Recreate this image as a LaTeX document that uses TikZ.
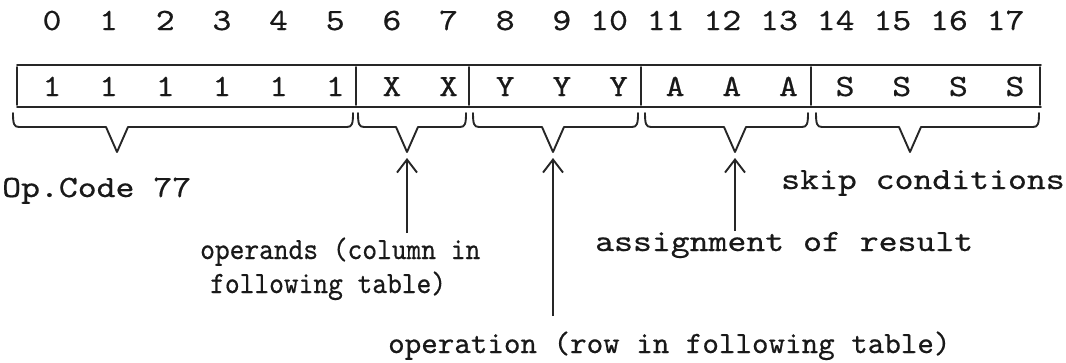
\documentclass[tikz,border=0pt]{standalone}
\usepackage{fontspec}
\newfontfamily\typew{lmmono10-regular}[Extension=.otf, FakeBold=0.5]
\usetikzlibrary{arrows.meta}
\newcommand\sq[2][1]{\scalebox{#1}[0.86]{#2}}
\newcommand\tbrace[4]{% x1, x2, tip x, name
  \draw[bracep] (#1,113) .. controls (#1,124) and (#1+1,127) .. (#1+6,127)
    -- (#3-11,127) -- (#3,152) coordinate (#4) -- (#3+11,127)
    -- (#2-6,127) .. controls (#2-1,127) and (#2,124) .. (#2,113);}
\begin{document}
\begin{tikzpicture}[x=1pt,y=-1pt,
  tt/.style={font=\typew\fontsize{36}{38}\selectfont, inner sep=0pt, text=black!90},
  boxline/.style={line width=1.9pt, black!85, line cap=round},
  bracep/.style={line width=1.9pt, black!85, line join=round, line cap=round},
  uparrow/.style={line width=1.9pt, black!85,
    -{Straight Barb[length=13pt,width=20pt,line width=1.9pt]}}]
\useasboundingbox (0,0) rectangle (1066,362);
% column positions
\pgfmathsetmacro{\pc}{56.65}
% top bit numbers
\foreach \i in {0,...,9}{
  \node[tt,anchor=base] (n\i) at ({52+\pc*\i},30) {\sq{\i}};}
\foreach \i in {10,...,17}{
  \node[tt,anchor=base] (n\i) at ({52+\pc*\i-9.4},30) {\sq{\i}};}
% the word box
\coordinate (bl) at (17,65);
\coordinate (br) at (1041,65);
\draw[boxline] (bl) -- (br);
\draw[boxline] (17,107) -- (1041,107);
\foreach \x/\n in {17/d0,356/d1,469/d2,641/d3,811/d4,1040/d5}{
  \coordinate (\n t) at (\x,67);
  \coordinate (\n b) at (\x,105);
  \draw[boxline] (\n t) -- (\n b);}
% contents
\foreach \i/\c in {0/1,1/1,2/1,3/1,4/1,5/1,6/X,7/X,8/Y,9/Y,10/Y,11/A,12/A,13/A,14/S,15/S,16/S,17/S}{
  \node[tt,anchor=base] (c\i) at ({52+\pc*\i},96) {\sq{\c}};}
% braces
\tbrace{13}{353}{117}{tip1}
\tbrace{358}{466}{407}{tip2}
\tbrace{473}{638}{553}{tip3}
\tbrace{645}{808}{735}{tip4}
\tbrace{816}{1039}{910}{tip5}
% labels
\node[tt,anchor=base west] (opcode) at (2,197) {\sq{Op.Code 77}};
\node[tt,anchor=base west] (skip) at (781,189) {\sq{skip conditions}};
\node[tt,anchor=base west] (operands) at (200,259) {\sq[0.78]{operands (column in}};
\node[tt,anchor=base west] (following) at (210,293) {\sq[0.78]{following table)}};
\node[tt,anchor=base west] (assign) at (595,251) {\sq{assignment of result}};
\node[tt,anchor=base west] (operation) at (388,353) {\sq[0.875]{operation (row in following table)}};
% arrows
\coordinate (a2s) at (407,233);
\coordinate (a2e) at (407,158);
\coordinate (a3s) at (553,316);
\coordinate (a3e) at (553,158);
\coordinate (a4s) at (735,231);
\coordinate (a4e) at (735,158);
\draw[uparrow] (a2s) -- (a2e);
\draw[uparrow] (a3s) -- (a3e);
\draw[uparrow] (a4s) -- (a4e);
\end{tikzpicture}
\end{document}
